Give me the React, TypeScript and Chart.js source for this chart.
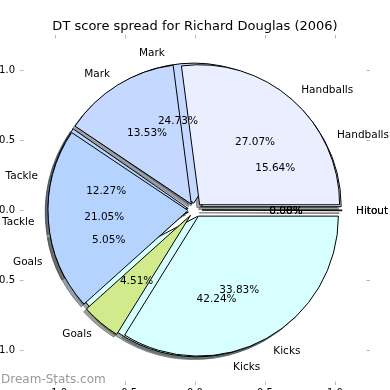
import { useEffect, useRef } from 'react';
import { Chart, registerables } from 'chart.js';

Chart.register(...registerables);

// ---------- data ----------
const TITLE = 'DT score spread for Richard Douglas (2006)';
const CATEGORIES = ['Handballs', 'Mark', 'Tackle', 'Goals', 'Kicks', 'Hitout'];
// lower pie (drawn first)
const SHARE_A = [15.64, 24.73, 12.27, 5.05, 42.24, 0.08];
// upper pie (drawn on top)
const SHARE_B = [27.07, 13.53, 21.05, 4.51, 33.83, 0.0];
const SLICE_COLORS = ['#e9efff', '#c5d8ff', '#b4d4ff', '#d1ea8c', '#d8ffff', '#e0e0e0'];
const AXIS_TICKS = [-1, -0.5, 0, 0.5, 1];
const AXIS_TICK_LABELS = ['\u22121.0', '\u22120.5', '0.0', '0.5', '1.0'];
const WATERMARK = 'Dream-Stats.com';

// ---------- style ----------
const W = 430;
const H = 420;
const SHIFT_X = -40;
const EXPLODE = 0.05;
const SHADOW = 0.02;
const LABEL_DIST = 1.1;
const PCT_DIST = 0.6;
const FONT = "'DejaVu Sans', sans-serif";
const AX_LEFT = 60;
const AX_RIGHT = 410;
const AX_TOP = 35;
const AX_BOTTOM = 385;
const TITLE_SIZE = 13;
const TITLE_PAD_TOP = 18.5;
const LABEL_SIZE = 10.5;
const TEXT_DY = 1;

function shade(hex: string) {
  const n = parseInt(hex.slice(1), 16);
  const r = (n >> 16) & 255, g = (n >> 8) & 255, b = n & 255;
  return `rgba(${Math.round(r * 0.3)},${Math.round(g * 0.3)},${Math.round(b * 0.3)},0.5)`;
}

const explodePlugin = {
  id: 'explode',
  afterDatasetsUpdate(chart: any, _args: any, opts: any) {
    const meta = chart.getDatasetMeta(0);
    for (const arc of meta.data as any[]) {
      const mid = (arc.startAngle + arc.endAngle) / 2;
      const r = arc.outerRadius;
      arc.x += Math.cos(mid) * opts.fraction * r + (opts.dx || 0) * r;
      arc.y += Math.sin(mid) * opts.fraction * r + (opts.dy || 0) * r;
    }
  },
};

function makePie(canvas: HTMLCanvasElement, values: number[], shadow: boolean, cx: number, cy: number, R: number) {
  const data = [...values].reverse();
  const colors = [...SLICE_COLORS].reverse();
  const bg = shadow ? colors.map(shade) : colors;
  const border = shadow ? bg : '#000000';
  const dx = 2 * cx - W;
  const dy = 2 * cy - H;
  const padding = {
    left: Math.max(dx, 0),
    right: Math.max(-dx, 0),
    top: Math.max(dy, 0),
    bottom: Math.max(-dy, 0),
  };
  return new Chart(canvas, {
    type: 'pie',
    data: {
      labels: [...CATEGORIES].reverse(),
      datasets: [
        {
          data,
          backgroundColor: bg,
          borderColor: border,
          borderWidth: 1,
          radius: R,
          rotation: 90,
        } as any,
      ],
    },
    options: {
      responsive: false,
      animation: false,
      events: [],
      layout: { padding, autoPadding: false } as any,
      plugins: {
        legend: { display: false },
        tooltip: { enabled: false },
        explode: { fraction: EXPLODE, dx: shadow ? -SHADOW : 0, dy: shadow ? SHADOW : 0 },
      } as any,
    },
    plugins: [explodePlugin],
  });
}

function axisOpts(position: string, showLabels: boolean, size: number, pad: number) {
  const horizontal = position === 'top' || position === 'bottom';
  return {
    type: 'linear',
    position,
    axis: horizontal ? 'x' : 'y',
    min: -1.25,
    max: 1.25,
    afterBuildTicks: (s: any) => {
      s.ticks = AXIS_TICKS.map((v) => ({ value: v }));
    },
    afterFit: (s: any) => {
      if (horizontal) s.height = size;
      else s.width = size;
    },
    grid: {
      display: true,
      drawOnChartArea: false,
      drawTicks: true,
      tickLength: -3.5,
      color: '#b8b8b8',
      lineWidth: 1,
    },
    border: { display: false },
    ticks: {
      display: showLabels,
      autoSkip: false,
      maxRotation: 0,
      padding: pad,
      color: '#000000',
      font: { family: FONT, size: 10 },
      callback: (v: number) => AXIS_TICK_LABELS[AXIS_TICKS.indexOf(v)],
    },
  };
}

export default function App() {
  const shA = useRef<HTMLCanvasElement>(null);
  const shB = useRef<HTMLCanvasElement>(null);
  const pA = useRef<HTMLCanvasElement>(null);
  const pB = useRef<HTMLCanvasElement>(null);
  const ax = useRef<HTMLCanvasElement>(null);

  useEffect(() => {
    document.body.style.margin = '0';
    const pies: any[] = [];

    const labelPlugin = {
      id: 'sliceLabels',
      afterDraw(chart: any) {
        const ctx = chart.ctx;
        ctx.save();
        ctx.fillStyle = '#000000';
        ctx.textBaseline = 'middle';
        ctx.font = `${LABEL_SIZE}px ${FONT}`;
        for (const pie of pies) {
          const meta = pie.getDatasetMeta(0);
          const labels = pie.data.labels;
          const vals = pie.data.datasets[0].data as number[];
          const total = vals.reduce((a: number, b: number) => a + b, 0);
          meta.data.forEach((arc: any, i: number) => {
            const mid = (arc.startAngle + arc.endAngle) / 2;
            const c = Math.cos(mid), s = Math.sin(mid);
            const R = arc.outerRadius;
            ctx.textAlign = c > 0 ? 'left' : 'right';
            ctx.fillText(labels[i], arc.x + c * R * LABEL_DIST, arc.y + s * R * LABEL_DIST + TEXT_DY);
            ctx.textAlign = 'center';
            ctx.fillText(`${((vals[i] / total) * 100).toFixed(2)}%`, arc.x + c * R * PCT_DIST, arc.y + s * R * PCT_DIST + TEXT_DY);
          });
        }
        ctx.font = `12px ${FONT}`;
        ctx.fillStyle = '#999999';
        ctx.textAlign = 'left';
        ctx.fillText(WATERMARK, -SHIFT_X + 1, 380);
        ctx.restore();
      },
    };

    const titleHeight = TITLE_SIZE * 1.2 + TITLE_PAD_TOP;
    const axesChart = new Chart(ax.current as HTMLCanvasElement, {
      type: 'scatter',
      data: { datasets: [] },
      options: {
        responsive: false,
        animation: false,
        events: [],
        layout: { padding: 0, autoPadding: false } as any,
        plugins: {
          legend: { display: false },
          tooltip: { enabled: false },
          title: {
            display: true,
            text: TITLE,
            fullSize: false,
            color: '#000000',
            font: { family: FONT, size: TITLE_SIZE, weight: 'normal', lineHeight: 1.2 },
            padding: { top: TITLE_PAD_TOP, bottom: 0 },
          },
        } as any,
        scales: {
          x: axisOpts('bottom', true, H - AX_BOTTOM, 6),
          x2: axisOpts('top', false, AX_TOP - titleHeight, 0),
          y: axisOpts('left', true, AX_LEFT, 8.5),
          y2: axisOpts('right', false, W - AX_RIGHT, 0),
        } as any,
      },
      plugins: [labelPlugin],
    });

    const xs: any = axesChart.scales.x;
    const ys: any = axesChart.scales.y;
    const cx = xs.getPixelForValue(0);
    const cy = ys.getPixelForValue(0);
    const R = xs.getPixelForValue(1) - cx;

    const sA = makePie(shA.current as HTMLCanvasElement, SHARE_A, true, cx, cy, R);
    const sB = makePie(shB.current as HTMLCanvasElement, SHARE_B, true, cx, cy, R);
    const a = makePie(pA.current as HTMLCanvasElement, SHARE_A, false, cx, cy, R);
    const b = makePie(pB.current as HTMLCanvasElement, SHARE_B, false, cx, cy, R);
    pies.push(a, b);
    axesChart.draw();

    return () => {
      [sA, sB, a, b, axesChart].forEach((c) => c.destroy());
    };
  }, []);

  const cs: any = { position: 'absolute', left: SHIFT_X, top: 0 };
  return (
    <div style={{ position: 'relative', width: 390, height: 390, overflow: 'hidden', background: '#ffffff' }}>
      <canvas ref={shA} width={W} height={H} style={cs} />
      <canvas ref={shB} width={W} height={H} style={cs} />
      <canvas ref={pA} width={W} height={H} style={cs} />
      <canvas ref={pB} width={W} height={H} style={cs} />
      <canvas ref={ax} width={W} height={H} style={cs} />
    </div>
  );
}
